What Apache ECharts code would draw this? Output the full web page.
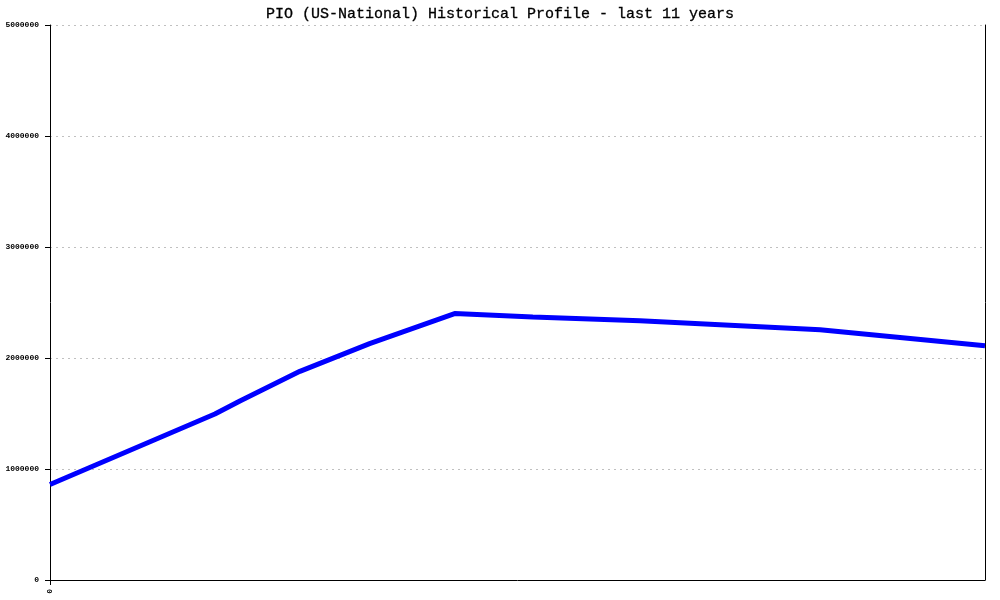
<!DOCTYPE html>
<html><head><meta charset="utf-8">
<script src="https://cdn.jsdelivr.net/npm/echarts@6/dist/echarts.min.js"></script>
<style>html,body{margin:0;padding:0;background:#fff}#c{width:1000px;height:600px}</style>
</head><body><div id="c"></div>
<script>
const titleText = 'PIO (US-National) Historical Profile - last 11 years';
const xPositions = [0, 1.94, 2.24, 2.94, 3.76, 4.76, 5.68, 6.94, 9.06, 11];
const population = [860000, 1495000, 1615000, 1880000, 2130000, 2400000, 2370000, 2335000, 2255000, 2110000];
const yTicks = [0, 1000000, 2000000, 3000000, 4000000, 5000000];
const xTickLabels = [0];

const chart = echarts.init(document.getElementById('c'), null, {renderer: 'canvas'});
const labelFont = {fontFamily: 'Liberation Mono', fontSize: 8, fontWeight: 'bold', color: '#000'};
chart.setOption({
  animation: false,
  backgroundColor: '#fff',
  title: {text: titleText, left: 'center', top: 2,
    textStyle: {fontFamily: 'Liberation Mono', fontSize: 15, fontWeight: 'normal', color: '#000', textBorderColor: '#000', textBorderWidth: 0.3}},
  grid: {left: 50, right: 15, top: 25, bottom: 20, containLabel: false, outerBoundsMode: 'none'},
  xAxis: {type: 'value', min: 0, max: 11,
    axisLine: {show: true, onZero: false, lineStyle: {color: '#000', width: 1}},
    axisTick: {show: true, length: 5, customValues: xTickLabels, lineStyle: {color: '#000'}},
    axisLabel: Object.assign({rotate: 90, margin: 9, customValues: xTickLabels, formatter: v => String(v)}, labelFont),
    splitLine: {show: false}},
  yAxis: [{type: 'value', min: 0, max: 5000000, interval: 1000000,
    axisLine: {show: true, lineStyle: {color: '#000', width: 1}},
    axisTick: {show: true, length: 5, lineStyle: {color: '#000'}},
    axisLabel: Object.assign({margin: 11, customValues: yTicks, formatter: v => String(v)}, labelFont),
    splitLine: {show: true, lineStyle: {color: '#c0c0c0', type: [2, 4], width: 1}}},
    {type: 'value', position: 'right', min: 0, max: 5000000,
    axisLine: {show: true, lineStyle: {color: '#000', width: 1}},
    axisTick: {show: false}, axisLabel: {show: false}, splitLine: {show: false}}],
  series: [{type: 'line', data: xPositions.map((x, i) => [x, population[i]]),
    showSymbol: false, symbol: 'none', lineStyle: {color: '#0000ff', width: 5}, itemStyle: {color: '#0000ff'}}]
});
</script></body></html>
